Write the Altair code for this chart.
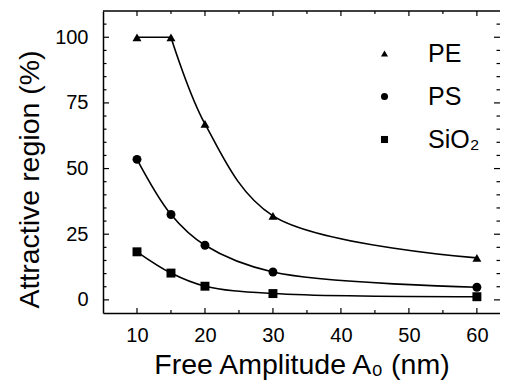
import altair as alt
import pandas as pd

# ---- data ----
x_vals = [10, 15, 20, 30, 60]
pe_vals = [100, 100, 67, 32, 16]
ps_vals = [53.5, 32.5, 20.8, 10.6, 4.8]
sio2_vals = [18.3, 10.2, 5.2, 2.4, 1.2]
series_names = ["PE", "PS", "SiO₂"]
series_shapes = ["triangle-up", "circle", "square"]

x_major = [10, 20, 30, 40, 50, 60]
x_minor = [15, 25, 35, 45, 55]
y_major = [0, 25, 50, 75, 100]
y_minor = [5, 10, 15, 20, 30, 35, 40, 45, 55, 60, 65, 70, 80, 85, 90, 95, 105]

W, H = 397, 302
FONT = "Liberation Sans"

# ---- tables ----
pts = []
for name, vals in zip(series_names, [pe_vals, ps_vals, sio2_vals]):
    for x, y in zip(x_vals, vals):
        pts.append({"x": x, "y": y, "series": name})
points = pd.DataFrame(pts)

rows = []
for x, y in zip(x_vals[:2], pe_vals[:2]):
    rows.append({"x": x, "y": y, "seg": "PE flat"})
for x, y in zip(x_vals[1:], pe_vals[1:]):
    rows.append({"x": x, "y": y, "seg": "PE fit"})
for name, vals in [("PS", ps_vals), ("SiO₂", sio2_vals)]:
    for x, y in zip(x_vals, vals):
        rows.append({"x": x, "y": y, "seg": name})
lines = pd.DataFrame(rows)

xscale = alt.Scale(domain=[5, 63.4], nice=False, zero=False)
yscale = alt.Scale(domain=[-5, 110], nice=False, zero=False)

x_axis = alt.Axis(
    values=x_major, title="Free Amplitude A₀ (nm)", grid=False, ticks=False, tickSize=0,
    domain=True, domainColor="black", domainWidth=1.5,
    labelFont=FONT, labelFontSize=20, labelColor="black", labelPadding=12,
    titleFont=FONT, titleFontSize=28.5, titleFontWeight="normal", titleColor="black",
    titleY=60, titleBaseline="alphabetic",
)
y_axis = alt.Axis(
    values=y_major, title="Attractive region (%)", grid=False, ticks=False, tickSize=0,
    domain=True, domainColor="black", domainWidth=1.5,
    labelFont=FONT, labelFontSize=20, labelColor="black", labelPadding=15,
    titleFont=FONT, titleFontSize=28.5, titleFontWeight="normal", titleColor="black",
    titleX=-65, titleY=168, titleAngle=270, titleAlign="center", titleBaseline="alphabetic",
)

line_layer = alt.Chart(lines).mark_line(
    interpolate="catmull-rom", color="black", strokeWidth=1.6
).encode(
    x=alt.X("x:Q", scale=xscale, axis=x_axis),
    y=alt.Y("y:Q", scale=yscale, axis=y_axis),
    detail="seg:N",
)

point_layer = alt.Chart(points).mark_point(
    filled=True, size=80, color="black", opacity=1
).encode(
    x=alt.X("x:Q", scale=xscale, axis=x_axis),
    y=alt.Y("y:Q", scale=yscale, axis=y_axis),
    shape=alt.Shape(
        "series:N",
        scale=alt.Scale(domain=series_names, range=series_shapes),
        sort=series_names,
        legend=alt.Legend(
            orient="none", legendX=269, legendY=30, title=None, padding=0,
            labelFont=FONT, labelFontSize=25, labelColor="black",
            symbolSize=50, symbolFillColor="black", symbolStrokeWidth=0,
            labelOffset=31, rowPadding=17,
        ),
    ),
)


def xticks(vals, y0, y1):
    return alt.Chart(pd.DataFrame({"x": vals})).mark_rule(color="black", strokeWidth=1.2).encode(
        x=alt.X("x:Q", scale=xscale, axis=x_axis), y=alt.value(y0), y2=alt.value(y1)
    )


def yticks(vals, x0, x1):
    return alt.Chart(pd.DataFrame({"y": vals})).mark_rule(color="black", strokeWidth=1.2).encode(
        y=alt.Y("y:Q", scale=yscale, axis=y_axis), x=alt.value(x0), x2=alt.value(x1)
    )


tick_layers = [
    xticks(x_major, H, H - 5), xticks(x_minor, H, H - 3),
    xticks(x_major, 0, 5), xticks(x_minor, 0, 3),
    yticks(y_major, 0, 6), yticks(y_minor, 0, 3.5),
    yticks(y_major, W, W - 6), yticks(y_minor, W, W - 3.5),
]

top_frame = alt.Chart(pd.DataFrame({"k": [0]})).mark_rule(color="black", strokeWidth=1.5).encode(
    x=alt.value(0), x2=alt.value(W), y=alt.value(0)
)

chart = alt.layer(line_layer, point_layer, top_frame, *tick_layers).properties(
    width=W, height=H,
    autosize=alt.AutoSizeParams(type="none"),
    padding={"left": 95, "top": 3, "right": 0, "bottom": 70},
).configure_view(strokeWidth=0)

chart.save("out.html", embed_options={"renderer": "svg", "actions": False})
